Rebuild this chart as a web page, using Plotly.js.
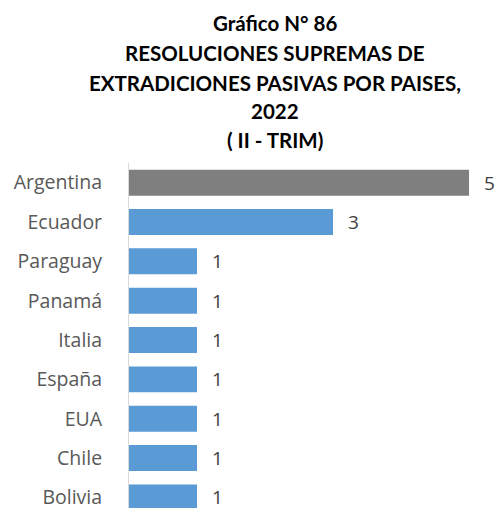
<!DOCTYPE html>
<html>
<head>
<meta charset="utf-8">
<script src="https://cdn.plot.ly/plotly-3.0.1.min.js"></script>
<style>html,body{margin:0;padding:0;background:#fff;}#chart{width:498px;height:508px;}</style>
</head>
<body>
<div id="chart"></div>
<script>
const countries = ["Argentina", "Ecuador", "Paraguay", "Panamá", "Italia", "España", "EUA", "Chile", "Bolivia"];
const values = [5, 3, 1, 1, 1, 1, 1, 1, 1];
const titleLines = ["Gráfico N° 86", "RESOLUCIONES SUPREMAS DE", "EXTRADICIONES PASIVAS POR PAISES,", "2022", "( II - TRIM)"];

const maxVal = Math.max(...values);
const barColors = values.map(v => v === maxVal ? "#7F7F7F" : "#5B9BD5");

const trace = {
  type: "bar",
  orientation: "h",
  x: values,
  y: countries,
  width: 0.66,
  marker: {color: barColors},
  hoverinfo: "x+y"
};

const annotations = [];
values.forEach((v, i) => {
  annotations.push({
    x: v, y: countries[i], xref: "x", yref: "y",
    text: String(v), showarrow: false,
    xanchor: "left", yanchor: "middle", xshift: 13,
    font: {family: "Open Sans, sans-serif", size: 19, color: "#404040"}
  });
});
const lineY = [23, 53, 83, 111, 140];
titleLines.forEach((t, i) => {
  annotations.push({
    x: 275, y: lineY[i], xref: "paper", yref: "paper",
    text: "<b>" + t + "</b>", showarrow: false,
    xanchor: "center", yanchor: "middle",
    font: {family: "Lato, sans-serif", size: 20.5, color: "#000000"}
  });
});
// convert pixel positions to paper coordinates
const W = 498, H = 508, mL = 128.5, mR = 0, mT = 163, mB = 0;
const pw = W - mL - mR, ph = H - mT - mB;
annotations.forEach(a => {
  if (a.xref === "paper") {
    a.x = (a.x - mL) / pw;
    a.y = (H - mB - a.y) / ph;
  }
});

const layout = {
  width: W, height: H,
  margin: {l: mL, r: mR, t: mT, b: mB, pad: 0},
  paper_bgcolor: "#ffffff",
  plot_bgcolor: "#ffffff",
  showlegend: false,
  xaxis: {range: [0, pw / 68.1], visible: false, showgrid: false, zeroline: false, fixedrange: true},
  yaxis: {
    type: "category",
    autorange: false,
    range: [8.27, -0.5],
    showline: true, linecolor: "#D9D9D9", linewidth: 1,
    showgrid: false, zeroline: false,
    ticks: "", ticklabelstandoff: 22,
    tickfont: {family: "Open Sans, sans-serif", size: 19.5, color: "#595959"},
    fixedrange: true
  },
  annotations: annotations
};

Plotly.newPlot("chart", [trace], layout, {displayModeBar: false, staticPlot: true});
</script>
</body>
</html>
